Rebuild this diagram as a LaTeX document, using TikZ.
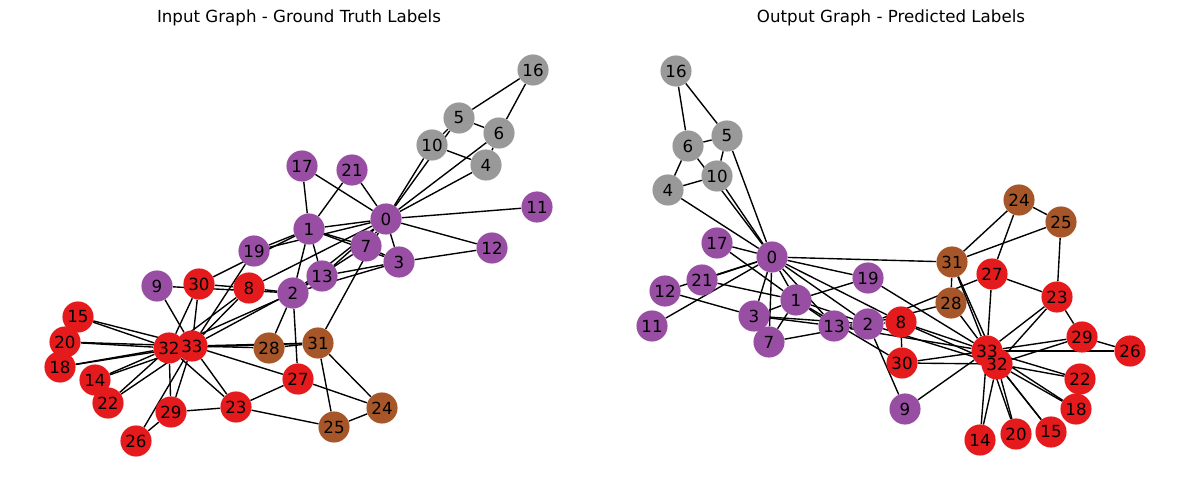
\documentclass[tikz,border=0pt]{standalone}
\usepackage{fontspec}
\setmainfont{DejaVu Sans}
\definecolor{cP}{RGB}{152,78,163}
\definecolor{cG}{RGB}{153,153,153}
\definecolor{cR}{RGB}{228,26,28}
\definecolor{cB}{RGB}{166,86,40}
\pgfdeclarelayer{bg}
\pgfsetlayers{bg,main}
\begin{document}
\begin{tikzpicture}[x=0.72pt,y=-0.72pt,
  vtx/.style={circle,minimum size=22.4pt,inner sep=0pt,draw=none},
  lbl/.style={font=\fontsize{12}{14}\selectfont,inner sep=0pt},
  edge/.style={line width=1pt,black}]
\useasboundingbox (0,0) rectangle (1189,490);
\node[lbl] (t1) at (299,18) {Input Graph - Ground Truth Labels};
\node[lbl] (t2) at (891,18) {Output Graph - Predicted Labels};
% left graph nodes
\foreach \n/\x/\y/\k in {0/386/219/P,1/309/229/P,2/293/293/P,3/399/262/P,4/486/165/G,5/459/118/G,6/499/133/G,7/366/246/P,8/249/288/R,9/157/286/P,10/432/145/G,11/537/207/P,12/492/248/P,13/322/276/P,14/95/380/R,15/78/317/R,16/533/70/G,17/302/166/P,18/60/367/R,19/254/251/P,20/65/342/R,21/352/170/P,22/108/403/R,23/236/407/R,24/382/408/B,25/334/427/B,26/136/441/R,27/298/379/R,28/269/348/B,29/171/412/R,30/199/284/R,31/318/343/B,32/169/348/R,33/192/346/R}
  \node[vtx,fill=c\k] (L\n) at (\x,\y) {};
% right graph nodes
\foreach \n/\x/\y/\k in {0/772/257/P,1/796/300/P,2/868/324/P,3/754/316/P,4/668/190/G,5/727/136/G,6/688/146/G,7/769/342/P,8/901/322/R,9/905/409/P,10/717/176/G,11/652/326/P,12/665/291/P,13/834/326/P,14/980/440/R,15/1051/432/R,16/676/71/G,17/717/243/P,18/1076/409/R,19/868/278/P,20/1016/434/R,21/702/280/P,22/1080/379/R,23/1057/297/R,24/1019/200/B,25/1061/222/B,26/1130/351/R,27/992/274/R,28/951/303/B,29/1082/337/R,30/902/363/R,31/952/262/B,32/997/364/R,33/987/351/R}
  \node[vtx,fill=c\k] (R\n) at (\x,\y) {};
% edges
\begin{pgfonlayer}{bg}
\foreach \a/\b in {0/1,0/2,0/3,0/4,0/5,0/6,0/7,0/8,0/10,0/11,0/12,0/13,0/17,0/19,0/21,0/31,
  1/2,1/3,1/7,1/13,1/17,1/19,1/21,1/30,
  2/3,2/7,2/8,2/9,2/13,2/27,2/28,2/32,
  3/7,3/12,3/13,4/6,4/10,5/6,5/10,5/16,6/16,
  8/30,8/32,8/33,9/33,13/33,14/32,14/33,15/32,15/33,18/32,18/33,19/33,20/32,20/33,22/32,22/33,
  23/25,23/27,23/29,23/32,23/33,24/25,24/27,24/31,25/31,26/29,26/33,27/33,28/31,28/33,
  29/32,29/33,30/32,30/33,31/32,31/33,32/33}
  {\draw[edge] (L\a) -- (L\b); \draw[edge] (R\a) -- (R\b);}
\end{pgfonlayer}
% labels
\foreach \n in {0,...,33} {
  \node[lbl] (Lt\n) at (L\n) {\n};
  \node[lbl] (Rt\n) at (R\n) {\n};
}
\end{tikzpicture}
\end{document}
